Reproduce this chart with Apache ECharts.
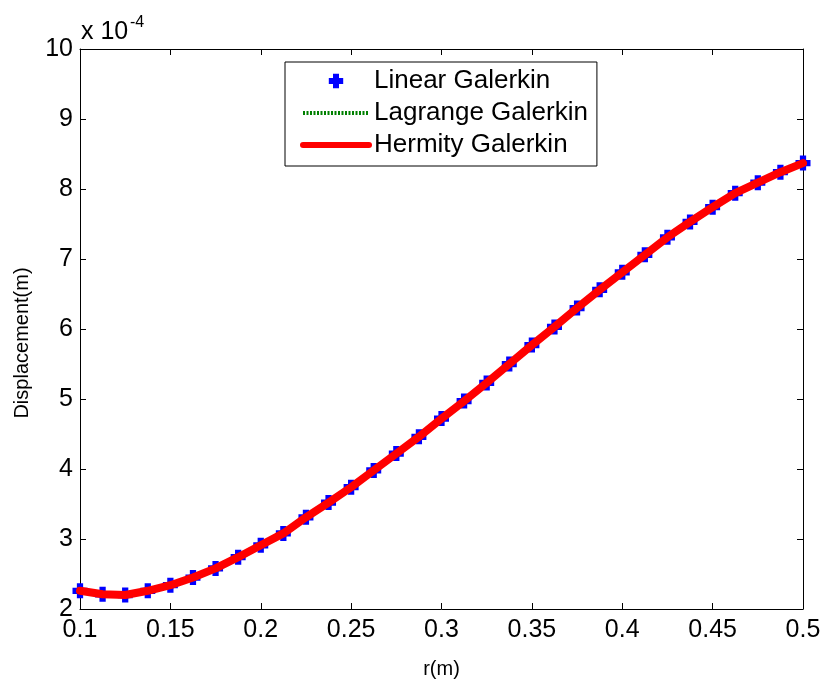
<!DOCTYPE html>
<html>
<head>
<meta charset="utf-8">
<script src="https://cdn.jsdelivr.net/npm/echarts@6/dist/echarts.min.js"></script>
<style>
html,body{margin:0;padding:0;background:#fff;}
#chart{width:826px;height:684px;}
</style>
</head>
<body>
<div id="chart"></div>
<script>
// r (m)
var rValues = [0.1, 0.1125, 0.125, 0.1375, 0.15, 0.1625, 0.175, 0.1875, 0.2, 0.2125,
  0.225, 0.2375, 0.25, 0.2625, 0.275, 0.2875, 0.3, 0.3125, 0.325, 0.3375,
  0.35, 0.3625, 0.375, 0.3875, 0.4, 0.4125, 0.425, 0.4375, 0.45, 0.4625,
  0.475, 0.4875, 0.5];
// displacement, in units of 1e-4 m
var linearGalerkin = [2.26, 2.21, 2.20, 2.26, 2.34, 2.45, 2.58, 2.74, 2.91, 3.08,
  3.31, 3.52, 3.74, 3.98, 4.22, 4.46, 4.72, 4.97, 5.23, 5.50,
  5.77, 6.03, 6.30, 6.56, 6.81, 7.06, 7.31, 7.53, 7.74, 7.94,
  8.09, 8.24, 8.37];
var lagrangeGalerkin = [2.26, 2.21, 2.20, 2.26, 2.34, 2.45, 2.58, 2.74, 2.91, 3.08,
  3.31, 3.52, 3.74, 3.98, 4.22, 4.46, 4.72, 4.97, 5.23, 5.50,
  5.77, 6.03, 6.30, 6.56, 6.81, 7.06, 7.31, 7.53, 7.74, 7.94,
  8.09, 8.24, 8.37];
var hermityGalerkin = [2.26, 2.21, 2.20, 2.26, 2.34, 2.45, 2.58, 2.74, 2.91, 3.08,
  3.31, 3.52, 3.74, 3.98, 4.22, 4.46, 4.72, 4.97, 5.23, 5.50,
  5.77, 6.03, 6.30, 6.56, 6.81, 7.06, 7.31, 7.53, 7.74, 7.94,
  8.09, 8.24, 8.37];
var seriesNames = ['Linear Galerkin', 'Lagrange Galerkin', 'Hermity Galerkin'];
var xTicks = {min: 0.1, max: 0.5, interval: 0.05};
var yTicks = {min: 2, max: 10, interval: 1};
var exponentText = ['x 10', '-4'];
var axisNames = {x: 'r(m)', y: 'Displacement(m)'};

function pairs(xs, ys) { return xs.map(function (x, i) { return [x, ys[i]]; }); }

var FONT = 'Liberation Sans, Arial, Helvetica, sans-serif';
var plusPath = 'path://M3.5,0 H8.5 V3.5 H12 V8.5 H8.5 V12 H3.5 V8.5 H0 V3.5 H3.5 Z';

var chart = echarts.init(document.getElementById('chart'), null, {renderer: 'canvas'});
var axisCommon = {
  axisLine: {show: true, onZero: false, lineStyle: {color: '#000', width: 1}},
  axisTick: {show: true, inside: true, length: 6, lineStyle: {color: '#000', width: 1}},
  splitLine: {show: false}
};
chart.setOption({
  backgroundColor: '#fff',
  animation: false,
  grid: {left: 80, right: 23, top: 49, bottom: 67, containLabel: false},
  xAxis: [
    Object.assign({
      type: 'value', position: 'bottom', min: xTicks.min, max: xTicks.max, interval: xTicks.interval,
      name: axisNames.x, nameLocation: 'middle', nameGap: 50,
      nameTextStyle: {fontFamily: FONT, fontSize: 20, color: '#000'},
      axisLabel: {show: true, margin: 9, fontFamily: FONT, fontSize: 25, color: '#000',
        formatter: function (v) { return String(+v.toFixed(3)); }}
    }, axisCommon),
    Object.assign({
      type: 'value', position: 'top', min: xTicks.min, max: xTicks.max, interval: xTicks.interval,
      axisLabel: {show: false}
    }, axisCommon)
  ],
  yAxis: [
    Object.assign({
      type: 'value', position: 'left', min: yTicks.min, max: yTicks.max, interval: yTicks.interval,
      name: axisNames.y, nameLocation: 'middle', nameGap: 48,
      nameTextStyle: {fontFamily: FONT, fontSize: 20, color: '#000', padding: [0, 28, 0, 0]},
      axisLabel: {show: true, margin: 7, fontFamily: FONT, fontSize: 25, color: '#000'}
    }, axisCommon),
    Object.assign({
      type: 'value', position: 'right', min: yTicks.min, max: yTicks.max, interval: yTicks.interval,
      axisLabel: {show: false}
    }, axisCommon)
  ],
  legend: {
    orient: 'vertical', left: 285, top: 62,
    backgroundColor: '#fff', borderColor: '#000', borderWidth: 1, borderRadius: 0,
    padding: [6, 9, 8, 15],
    itemWidth: 66, itemHeight: 18, itemGap: 6,
    textStyle: {fontFamily: FONT, fontSize: 26, color: '#000'},
    data: [
      {name: seriesNames[0]},
      {name: seriesNames[1], itemStyle: {opacity: 0}, lineStyle: {width: 4, type: [2, 1.5], color: '#008000'}},
      {name: seriesNames[2], itemStyle: {opacity: 0}, lineStyle: {width: 6, type: 'solid', color: '#ff0000'}}
    ]
  },
  graphic: [
    {type: 'text', left: 81, top: 20, style: {text: exponentText[0], fontFamily: FONT, fontSize: 25, fill: '#000'}},
    {type: 'text', left: 130, top: 15, style: {text: exponentText[1], fontFamily: FONT, fontSize: 16, fill: '#000'}}
  ],
  series: [
    {
      name: seriesNames[0], type: 'line', data: pairs(rValues, linearGalerkin),
      symbol: plusPath, symbolSize: 15, showSymbol: true,
      itemStyle: {color: '#0000ff'}, lineStyle: {width: 0, opacity: 0},
      z: 2
    },
    {
      name: seriesNames[1], type: 'line', data: pairs(rValues, lagrangeGalerkin),
      symbol: 'none', itemStyle: {color: '#008000'},
      lineStyle: {width: 4, type: [2, 1.5], color: '#008000'},
      z: 3
    },
    {
      name: seriesNames[2], type: 'line', data: pairs(rValues, hermityGalerkin),
      symbol: 'none', itemStyle: {color: '#ff0000'},
      lineStyle: {width: 8, color: '#ff0000', cap: 'round', join: 'round'},
      z: 4
    }
  ]
});
</script>
</body>
</html>
